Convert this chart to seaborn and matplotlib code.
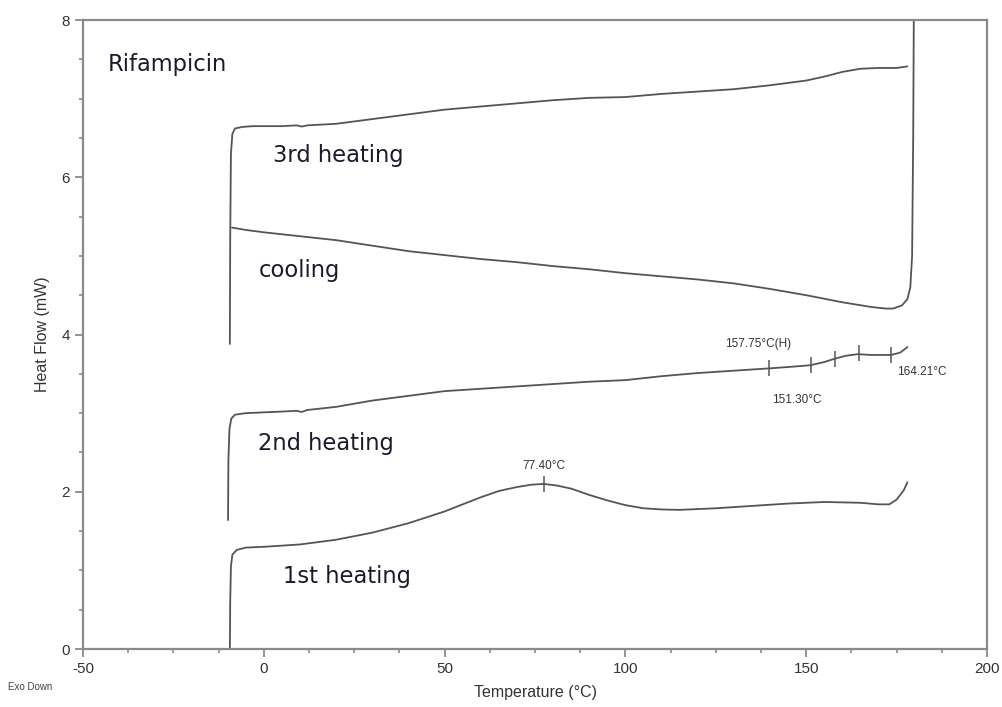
import numpy as np
import pandas as pd
import seaborn as sns
import matplotlib.pyplot as plt
from matplotlib.ticker import MultipleLocator

# DSC traces of rifampicin
h1_t = [-9.4, -9.3, -9.1, -8.7, -7.5, -5, 0, 10, 20, 30, 40, 50, 55, 60, 65, 70, 74, 77.4, 81, 85, 90, 95, 100, 105, 110, 115, 125, 135, 145, 155, 165, 170, 173, 175, 177, 178]
h1_q = [-0.1, 0.6, 1.05, 1.2, 1.26, 1.29, 1.30, 1.33, 1.39, 1.48, 1.6, 1.75, 1.84, 1.93, 2.01, 2.06, 2.09, 2.10, 2.08, 2.04, 1.96, 1.89, 1.83, 1.79, 1.775, 1.77, 1.79, 1.82, 1.85, 1.87, 1.86, 1.84, 1.84, 1.9, 2.02, 2.12]

h2_t = [-9.9, -9.8, -9.5, -9.0, -8, -5, 0, 5, 9, 10.5, 12, 20, 30, 40, 50, 60, 70, 80, 90, 100, 110, 120, 130, 140, 146, 151.3, 155, 157.75, 161, 164.2, 168, 173.5, 176, 178]
h2_q = [1.64, 2.4, 2.8, 2.93, 2.98, 3.0, 3.01, 3.02, 3.03, 3.015, 3.04, 3.08, 3.16, 3.22, 3.28, 3.31, 3.34, 3.37, 3.4, 3.42, 3.47, 3.51, 3.54, 3.57, 3.59, 3.61, 3.65, 3.69, 3.73, 3.75, 3.74, 3.74, 3.77, 3.84]

cool_t = [179.8, 179.6, 179.3, 178.8, 178, 176.5, 174, 172, 168, 160, 150, 140, 130, 120, 110, 100, 90, 80, 70, 60, 50, 40, 30, 20, 10, 0, -5, -8.8]
cool_q = [8.3, 6.5, 5.0, 4.6, 4.45, 4.37, 4.33, 4.33, 4.35, 4.41, 4.5, 4.58, 4.65, 4.7, 4.74, 4.78, 4.83, 4.87, 4.92, 4.96, 5.01, 5.06, 5.13, 5.2, 5.25, 5.3, 5.33, 5.36]

h3_t = [-9.4, -9.3, -9.1, -8.7, -8, -6, -3, 0, 5, 9, 10.5, 12, 20, 30, 40, 50, 60, 70, 80, 90, 100, 110, 120, 130, 140, 150, 155, 160, 165, 170, 175, 178]
h3_q = [3.88, 5.2, 6.3, 6.55, 6.62, 6.64, 6.65, 6.65, 6.65, 6.66, 6.645, 6.66, 6.68, 6.74, 6.8, 6.86, 6.9, 6.94, 6.98, 7.01, 7.02, 7.06, 7.09, 7.12, 7.17, 7.23, 7.28, 7.34, 7.38, 7.39, 7.39, 7.41]

# analysis markers
mark_t = [77.4, 139.7, 151.3, 158.0, 164.6, 173.5]
mark_q = [2.10, 3.57, 3.61, 3.69, 3.76, 3.74]

sns.set_style("ticks")
plt.rcParams['font.family'] = ['Liberation Sans', 'DejaVu Sans']
plt.rcParams['axes.unicode_minus'] = False

fig = plt.figure(figsize=(10.03, 7.07), dpi=100)
ax = fig.add_axes([0.0828, 0.082, 0.9012, 0.8897])

line_col = '#555555'
for t, q in [(h1_t, h1_q), (h2_t, h2_q), (cool_t, cool_q), (h3_t, h3_q)]:
    sns.lineplot(x=t, y=q, sort=False, estimator=None, color=line_col, linewidth=1.3, ax=ax)

ax.plot(mark_t, mark_q, linestyle='none', marker='|', markersize=12, markeredgewidth=1.1, color=line_col)

ax.set_xlim(-50, 200)
ax.set_ylim(0, 8)
ax.xaxis.set_major_locator(MultipleLocator(50))
ax.xaxis.set_minor_locator(MultipleLocator(12.5))
ax.yaxis.set_major_locator(MultipleLocator(2))
ax.yaxis.set_minor_locator(MultipleLocator(0.5))

spine_col = '#8a8a8a'
for s in ax.spines.values():
    s.set_color(spine_col)
    s.set_linewidth(1.6)
ax.tick_params(axis='both', which='major', length=6, width=1.3, color=spine_col, labelsize=11, labelcolor='#333333')
ax.tick_params(axis='both', which='minor', length=3, width=1.2, color=spine_col)

ax.set_xlabel('Temperature (°C)', fontsize=11.5, color='#333333', labelpad=6)
ax.set_ylabel('Heat Flow (mW)', fontsize=11.5, color='#333333', labelpad=8)

lab_font = ['DejaVu Sans']
lab_col = '#1a1a2e'
ax.text(-43.1, 7.43, 'Rifampicin', fontsize=16.3, family=lab_font, color=lab_col, va='center')
ax.text(2.5, 6.28, '3rd heating', fontsize=16.3, family=lab_font, color=lab_col, va='center')
ax.text(-1.3, 4.81, 'cooling', fontsize=16.3, family=lab_font, color=lab_col, va='center')
ax.text(-1.6, 2.62, '2nd heating', fontsize=16.3, family=lab_font, color=lab_col, va='center')
ax.text(5.3, 0.92, '1st heating', fontsize=16.3, family=lab_font, color=lab_col, va='center')

ann_col = '#333333'
ax.text(77.4, 2.33, '77.40°C', fontsize=8.5, color=ann_col, ha='center', va='center')
ax.text(127.5, 3.88, '157.75°C(H)', fontsize=8.5, color=ann_col, ha='left', va='center')
ax.text(140.5, 3.17, '151.30°C', fontsize=8.5, color=ann_col, ha='left', va='center')
ax.text(175.2, 3.52, '164.21°C', fontsize=8.5, color=ann_col, ha='left', va='center')

fig.text(0.008, 0.024, 'Exo Down', fontsize=7, color='#444444')

fig.savefig('out.png', dpi=100)
